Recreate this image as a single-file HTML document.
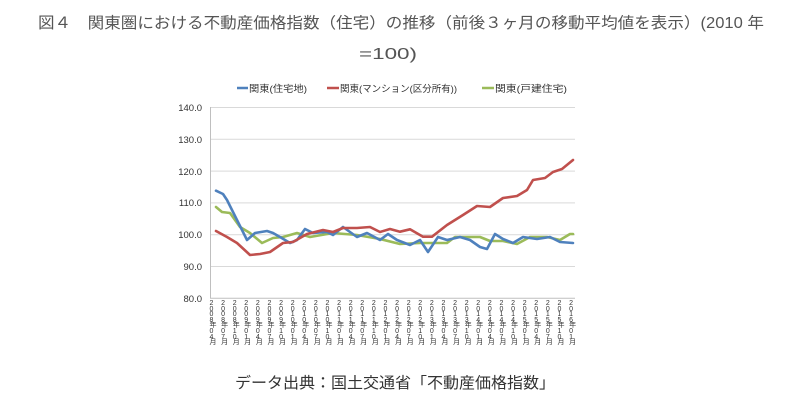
<!DOCTYPE html>
<html><head><meta charset="utf-8"><style>
html,body{margin:0;padding:0;background:#fff;}
body{position:relative;width:800px;height:403px;overflow:hidden;font-family:"Liberation Sans","Noto Sans CJK JP",sans-serif;}
svg{display:block;position:absolute;left:0;top:0;font-family:"Liberation Sans","Noto Sans CJK JP",sans-serif;}
.xl{position:absolute;top:301px;width:1px;margin-left:-2.5px;font-size:7px;line-height:5.6px;word-break:break-all;text-align:left;color:#333;}
</style></head><body>
<svg width="800" height="403" viewBox="0 0 800 403" xmlns="http://www.w3.org/2000/svg">
<text x="38" y="28" font-size="15.5" fill="#555" textLength="726" lengthAdjust="spacingAndGlyphs">図４　関東圏における不動産価格指数（住宅）の推移（前後３ヶ月の移動平均値を表示）(2010 年</text>
<text x="359" y="59" font-size="15.5" fill="#555" textLength="58" lengthAdjust="spacingAndGlyphs">=100)</text>
<g stroke="#d9d9d9" stroke-width="1">
<line x1="210" y1="107.5" x2="575" y2="107.5"/>
<line x1="210" y1="139.3" x2="575" y2="139.3"/>
<line x1="210" y1="171.1" x2="575" y2="171.1"/>
<line x1="210" y1="202.9" x2="575" y2="202.9"/>
<line x1="210" y1="234.7" x2="575" y2="234.7"/>
<line x1="210" y1="266.5" x2="575" y2="266.5"/>
</g>
<line x1="210" y1="298.3" x2="575" y2="298.3" stroke="#bfbfbf"/>
<line x1="210.5" y1="107" x2="210.5" y2="298" stroke="#bfbfbf"/>
<g font-size="9.5" fill="#333" text-anchor="end">
<text x="202" y="111">140.0</text><text x="202" y="143">130.0</text><text x="202" y="175">120.0</text>
<text x="202" y="206">110.0</text><text x="202" y="238">100.0</text><text x="202" y="270">90.0</text>
<text x="202" y="302">80.0</text>
</g>
<g stroke-width="2.5" fill="none">
<line x1="237" y1="88" x2="248" y2="88" stroke="#4f81bd"/>
<line x1="327" y1="88" x2="339" y2="88" stroke="#c0504d"/>
<line x1="482" y1="88" x2="494" y2="88" stroke="#9bbb59"/>
</g>
<g font-size="9.5" fill="#333">
<text x="249" y="92" textLength="58" lengthAdjust="spacingAndGlyphs">関東(住宅地)</text>
<text x="340" y="92" textLength="117" lengthAdjust="spacingAndGlyphs">関東(マンション(区分所有))</text>
<text x="495" y="92" textLength="72" lengthAdjust="spacingAndGlyphs">関東(戸建住宅)</text>
</g>
<g fill="none" stroke-width="2.6" stroke-linejoin="round" stroke-linecap="round">
<polyline stroke="#9bbb59" points="216,207 222,212 230,213 240,227 250,233 262,243 273,238 283,237 297,233 310,237 333,233 357,235 380,239 400,244 420,243 447,243 455,237 480,237 490,241 503,241 517,244 530,237 547,237 560,240 570,234 573,234"/>
<polyline stroke="#4f81bd" points="216,190.7 223,194 227,200 237,220 247,240 255,233 267,231 273,233 280,237 290,243 297,240 305,229 313,233 327,232 333,235 343,227 357,237 367,233 380,240 388,234 397,240 410,245 420,240 428,252 438,237 447,240 460,237 470,240 480,247 487,249 495,234 503,239 513,243 523,237 537,239 550,237 560,242 573,243"/>
<polyline stroke="#c0504d" points="216,231 227,237 237,243 250,255 260,254 270,252 283,243 293,242 307,234 323,230 333,232 343,228 357,228 370,227 380,232 390,229 400,231.7 410,229.3 423,236.7 432,236.7 447,225 463,215 477,206 490,207 503,198 517,196 527,190 533,180 545,178 553,172 562,169 573,160"/>
</g>
<text x="235" y="388" font-size="15.5" fill="#333" textLength="320" lengthAdjust="spacingAndGlyphs">データ出典：国土交通省「不動産価格指数」</text>
</svg>
<div class="xl" style="left:212px">2008年04月</div>
<div class="xl" style="left:223.6px">2008年07月</div>
<div class="xl" style="left:235.2px">2008年10月</div>
<div class="xl" style="left:246.8px">2009年01月</div>
<div class="xl" style="left:258.4px">2009年04月</div>
<div class="xl" style="left:270px">2009年07月</div>
<div class="xl" style="left:281.6px">2009年10月</div>
<div class="xl" style="left:293.2px">2010年01月</div>
<div class="xl" style="left:304.8px">2010年04月</div>
<div class="xl" style="left:316.4px">2010年07月</div>
<div class="xl" style="left:328px">2010年10月</div>
<div class="xl" style="left:339.6px">2011年01月</div>
<div class="xl" style="left:351.2px">2011年04月</div>
<div class="xl" style="left:362.8px">2011年07月</div>
<div class="xl" style="left:374.4px">2011年10月</div>
<div class="xl" style="left:386px">2012年01月</div>
<div class="xl" style="left:397.6px">2012年04月</div>
<div class="xl" style="left:409.2px">2012年07月</div>
<div class="xl" style="left:420.8px">2012年10月</div>
<div class="xl" style="left:432.4px">2013年01月</div>
<div class="xl" style="left:444px">2013年04月</div>
<div class="xl" style="left:455.6px">2013年07月</div>
<div class="xl" style="left:467.2px">2013年10月</div>
<div class="xl" style="left:478.8px">2014年01月</div>
<div class="xl" style="left:490.4px">2014年04月</div>
<div class="xl" style="left:502px">2014年07月</div>
<div class="xl" style="left:513.6px">2014年10月</div>
<div class="xl" style="left:525.2px">2015年01月</div>
<div class="xl" style="left:536.8px">2015年04月</div>
<div class="xl" style="left:548.4px">2015年07月</div>
<div class="xl" style="left:560px">2015年10月</div>
<div class="xl" style="left:571.6px">2016年01月</div>
</body></html>
